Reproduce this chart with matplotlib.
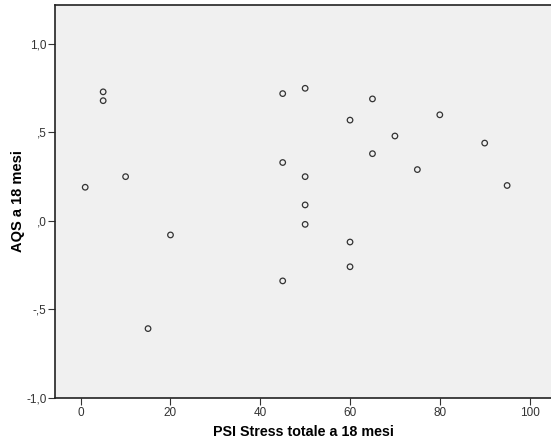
import matplotlib.pyplot as plt
from matplotlib.ticker import FuncFormatter

plt.rcParams['font.family'] = ['Liberation Sans', 'DejaVu Sans']

psi_stress = [1, 5, 5, 10, 15, 20, 45, 45, 45, 50, 50, 50, 50, 60, 60, 60,
              65, 65, 70, 75, 80, 90, 95]
aqs = [0.19, 0.73, 0.68, 0.25, -0.61, -0.08, 0.72, 0.33, -0.34, 0.75, 0.25,
       0.09, -0.02, 0.57, -0.12, -0.26, 0.69, 0.38, 0.48, 0.29, 0.60, 0.44, 0.20]

y_ticks = [-1.0, -0.5, 0.0, 0.5, 1.0]
x_ticks = [0, 20, 40, 60, 80, 100]


def spss_fmt(v, pos):
    # SPSS style: comma decimal, no leading zero
    s = f'{v:.1f}'.replace('.', ',')
    s = s.replace('-0,', '-,')
    if s.startswith('0,'):
        s = s[1:]
    return s


fig = plt.figure(figsize=(5.51, 4.47), dpi=100)
ax = fig.add_axes([0.1007, 0.1107, 0.9, 0.879])
ax.set_facecolor('#f0f0f0')

ax.scatter(psi_stress, aqs, s=16, facecolors='none', edgecolors='#333333',
           linewidths=0.9, zorder=3)

ax.set_xlim(-5.62, 104.86)
ax.set_ylim(-1.0, 1.2237)
ax.set_xticks(x_ticks)
ax.set_yticks(y_ticks)
ax.yaxis.set_major_formatter(FuncFormatter(spss_fmt))
ax.tick_params(direction='out', length=5, width=0.8, labelsize=8.5,
               colors='#333333', pad=1.5)

for side in ['left', 'bottom', 'top']:
    ax.spines[side].set_linewidth(1.2)
    ax.spines[side].set_color('#222222')
ax.spines['right'].set_visible(False)

ax.set_xlabel('PSI Stress totale a 18 mesi', fontsize=10.3,
              fontweight='bold', labelpad=5)
ax.set_ylabel('AQS a 18 mesi', fontsize=10.5, fontweight='bold')
ax.yaxis.set_label_coords(-0.062, 0.5)

fig.savefig('out.png', dpi=100)
